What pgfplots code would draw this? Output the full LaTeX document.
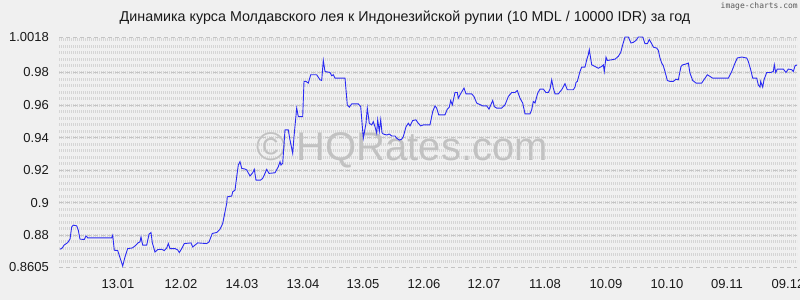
\documentclass[border=0pt]{standalone}
\usepackage{pgfplots}
\pgfplotsset{compat=1.18}
\usepackage{fontspec}
\setmainfont{Liberation Sans}
\newfontfamily\monofont{DejaVu Sans Mono}
\definecolor{bg}{HTML}{F0F0F0}
\definecolor{texc}{HTML}{D5D5D5}
\definecolor{majc}{HTML}{C4C4C4}
\definecolor{linec}{HTML}{2A2AF2}
\definecolor{wmc}{HTML}{C2C2C2}
\begin{document}
\begin{tikzpicture}[x=1pt,y=1pt]
\fill[bg] (0,0) rectangle (800,300);
\useasboundingbox (0,0) rectangle (800,300);
\foreach \j in {-4,...,30} {
  \draw[texc, line width=3pt, dash pattern=on 0.9pt off 1.1pt] (59,{64.74+6.51*\j}) -- (797,{64.74+6.51*\j});
}
\node[text=wmc, font=\fontsize{40}{40}\selectfont] at (402,150) {© HQRates.com};
\node[font=\fontsize{14.3}{14.3}\selectfont, text=black!90] at (405,282) {Динамика курса Молдавского лея к Индонезийской рупии (10 MDL / 10000 IDR) за год};
\node[anchor=east, font=\monofont\fontsize{8}{8}\selectfont, text=black!65, inner sep=0pt] at (798,294) {image-charts.com};
\begin{axis}[
  at={(59pt,33pt)}, anchor=south west, scale only axis,
  width=738pt, height=230pt,
  xmin=59, xmax=797, ymin=0.8605, ymax=1.0018,
  axis line style={draw=none},
  tick style={draw=none},
  ytick={0.8605,0.88,0.9,0.92,0.94,0.96,0.98,1.0018},
  yticklabels={0.8605,0.88,0.9,0.92,0.94,0.96,0.98,1.0018},
  xtick={118,181,242,303,363,424,484,545,606,667,727,788},
  xticklabels={13.01,12.02,14.03,13.04,13.05,12.06,12.07,11.08,10.09,10.10,09.11,09.12},
  ymajorgrids, major grid style={majc, line width=0.8pt, dash pattern=on 4pt off 3pt},
  ticklabel style={font=\fontsize{13}{13}\selectfont, text=black!90},
  yticklabel style={inner sep=0pt},
  xticklabel style={inner sep=0pt},
  yticklabel shift=10pt,
  xticklabel shift=12pt,
  clip=true,
]
\addplot[linec, line width=0.9pt, mark=none] coordinates {
(60,0.8714) (62.3,0.8722) (64,0.8739) (67.7,0.8755) (70,0.8776) (71.7,0.8851) (73.3,0.8862) (76.7,0.8858) (78.3,0.8831) (80,0.8776)
(84.3,0.8774) (86,0.8796) (87.7,0.8784) (111.7,0.8784) (112.7,0.8800) (114.3,0.8708) (117.7,0.8706) (122.7,0.8611) (125,0.8667) (127.7,0.8718)
(132.3,0.8722) (135,0.8734) (138.3,0.8755) (140,0.8759) (141,0.8790) (142.7,0.8739) (146.7,0.8739) (149,0.8806) (151,0.8817) (152.3,0.8755)
(155,0.8697) (157.7,0.8712) (161.7,0.8714) (164.3,0.8706) (166.7,0.8722) (168.3,0.8749) (170,0.8718) (175,0.8718) (177.7,0.8710) (179.3,0.8694)
(181.7,0.8718) (184.3,0.8749) (191,0.8753) (192.7,0.8728) (197.7,0.8753) (206.7,0.8749) (209,0.8759) (212.3,0.8811) (216.7,0.8817) (220,0.8837)
(222.7,0.8872) (226.7,0.8996) (227.3,0.9036) (231.7,0.9041) (232.7,0.9067) (235,0.9077) (236.7,0.9159) (238.3,0.9231) (240,0.9252) (241.7,0.9211)
(245,0.9207) (246.7,0.9201) (250,0.9164) (252.7,0.9184) (254.3,0.9205) (256,0.9139) (260.7,0.9139) (262.7,0.9150) (264.3,0.9170) (266.7,0.9205)
(269,0.9180) (275,0.9184) (278.3,0.9221) (280,0.9252) (281,0.9231) (282.7,0.9242) (285,0.9447) (288.3,0.9447) (290,0.9385) (292.7,0.9303)
(294,0.9406) (296.7,0.9581) (298.3,0.9529) (302.7,0.9529) (304,0.9745) (306,0.9745) (308.3,0.9735) (310.7,0.9786) (316.7,0.9786) (320,0.9755)
(321.7,0.9751) (323.3,0.9874) (325,0.9806) (330,0.9800) (331.7,0.9780) (333.3,0.9786) (335,0.9765) (345,0.9765) (347.3,0.9601) (349.3,0.9587)
(351.7,0.9607) (358.3,0.9607) (360.7,0.9590) (363.3,0.9396) (366,0.9488) (367.3,0.9581) (369.3,0.9488) (371.7,0.9478) (373.3,0.9498) (375,0.9467)
(376.7,0.9427) (377.7,0.9509) (379.3,0.9437) (380.7,0.9509) (382,0.9430) (383.3,0.9422) (386.7,0.9416) (389.3,0.9422) (391.7,0.9410) (395,0.9410)
(396.7,0.9396) (399.3,0.9385) (401.7,0.9390) (403.3,0.9406) (406,0.9467) (408.3,0.9488) (410,0.9472) (412.7,0.9505) (416,0.9509) (418.3,0.9488)
(420.7,0.9472) (423.3,0.9478) (430,0.9478) (432.7,0.9560) (435,0.9595) (436.7,0.9581) (438.7,0.9540) (445,0.9540) (447.3,0.9575) (449.3,0.9587)
(450.7,0.9628) (452.3,0.9601) (455,0.9677) (457.3,0.9677) (458.3,0.9642) (460,0.9663) (464,0.9704) (466,0.9669) (471.7,0.9669) (474,0.9652)
(476.7,0.9612) (482.7,0.9595) (486.7,0.9595) (489,0.9575) (492.7,0.9628) (494.3,0.9590) (496.7,0.9581) (501.7,0.9581) (505,0.9601) (508.3,0.9652)
(511.7,0.9677) (515,0.9677) (517.3,0.9689) (520,0.9642) (522.7,0.9612) (525,0.9546) (530,0.9546) (531.7,0.9571) (533.3,0.9622) (535,0.9612)
(537.7,0.9673) (540,0.9698) (543.3,0.9698) (546,0.9677) (548.3,0.9677) (550,0.9698) (551.7,0.9755) (553.3,0.9704) (555,0.9669) (558.3,0.9669)
(561.7,0.9694) (565,0.9731) (567.3,0.9694) (573.3,0.9694) (575,0.9710) (576,0.9739) (577.3,0.9745) (580,0.9806) (581.7,0.9833) (585,0.9833)
(586.7,0.9878) (588.3,0.9909) (589.3,0.9940) (591.7,0.9847) (595,0.9837) (598.3,0.9826) (601.7,0.9837) (603.3,0.9847) (604.3,0.9806) (606,0.9894)
(607.3,0.9874) (611.7,0.9878) (615,0.9882) (618.3,0.9899) (620.7,0.9923) (622.7,0.9970) (625,1.0018) (628.3,1.0018) (631,0.9981) (633.3,0.9985)
(636,0.9997) (638.3,1.0018) (642.7,1.0018) (645,0.9977) (647.3,0.9977) (649.3,1.0002) (651.7,0.9977) (653.3,0.9956) (656.7,0.9950) (658.3,0.9936)
(660,0.9889) (661.7,0.9858) (663.3,0.9841) (665,0.9806) (667.3,0.9751) (670,0.9745) (673.3,0.9745) (676,0.9759) (678.3,0.9755) (681,0.9837)
(682.7,0.9847) (686,0.9852) (688.3,0.9858) (690,0.9796) (692.7,0.9751) (696,0.9735) (701.7,0.9735) (705,0.9765) (707.3,0.9786) (710,0.9776)
(712.7,0.9765) (728.3,0.9765) (731.7,0.9806) (735,0.9858) (737.3,0.9889) (741.7,0.9895) (746.7,0.9889) (748.3,0.9868) (750.7,0.9817) (752.7,0.9765)
(756.7,0.9765) (758.3,0.9724) (760,0.9710) (760.7,0.9745) (762.7,0.9710) (764,0.9755) (766.7,0.9800) (770.7,0.9800) (773.3,0.9806) (774.3,0.9847)
(775.7,0.9800) (777.3,0.9821) (783.3,0.9821) (786,0.9800) (788.3,0.9821) (791.7,0.9817) (793.3,0.9806) (795,0.9841) (797.3,0.9847)
};
\end{axis}
\end{tikzpicture}
\end{document}
